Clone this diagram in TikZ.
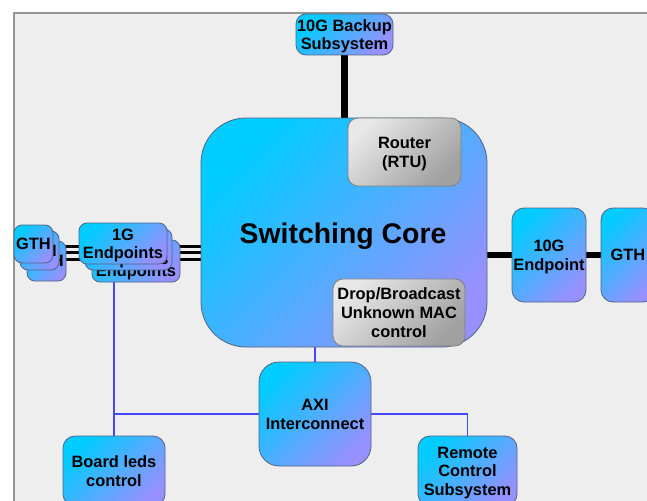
\documentclass[tikz,border=0pt]{standalone}
\usepackage{fontspec}
\setmainfont{Liberation Sans}
\pgfdeclarelayer{back}
\pgfdeclarelayer{lines}
\pgfsetlayers{back,lines,main}
\definecolor{cA}{RGB}{0,204,255}
\definecolor{cB}{RGB}{150,145,255}
\definecolor{gA}{RGB}{232,232,232}
\definecolor{gB}{RGB}{160,160,160}
\definecolor{edge}{RGB}{80,100,135}
\definecolor{bgfill}{RGB}{238,238,238}
\definecolor{bgedge}{RGB}{150,150,150}
\definecolor{wire}{RGB}{70,70,255}
\newcommand\boxtext[1]{\raisebox{-2.2pt}[\height][\depth]{\begin{tabular}{@{}c@{}}#1\end{tabular}}}
\tikzset{
  blk/.style={draw=edge, line width=0.8pt, top color=cA, bottom color=cB, shading angle=45,
    inner sep=0pt, font=\bfseries\fontsize{16.4}{18.6}\selectfont, rounded corners=10pt},
  gblk/.style={blk, top color=gA, bottom color=gB, shading angle=45, draw=gray},
  thick wire/.style={line width=6.5pt, black},
  thin bus/.style={line width=3pt, black},
  ctrl/.style={line width=1.4pt, wire},
}
\begin{document}
\begin{tikzpicture}[x=1pt,y=-1pt]
\useasboundingbox (0,0) rectangle (647,500);
\clip (0,0) rectangle (647,500);
\begin{pgfonlayer}{back}
\fill[white] (0,0) rectangle (647,500);
\fill[bgfill] (14,13) rectangle (660,510);
\draw[bgedge, line width=1.5pt] (14,510) -- (14,13) -- (660,13);
\end{pgfonlayer}

% top
\node[blk, minimum width=97pt, minimum height=41pt] (backup) at (344.5,34.5) {\boxtext{10G Backup\\Subsystem}};
% core
\node[blk, minimum width=286pt, minimum height=229pt, rounded corners=45pt,
  font=\bfseries\fontsize{28.4}{32}\selectfont] (core) at (344,232.5) {\raisebox{-4pt}[\height][\depth]{Switching Core}\hspace*{2pt}};
\node[gblk, minimum width=113pt, minimum height=68pt] (router) at (404.5,152) {\boxtext{Router\\(RTU)}};
\node[gblk, minimum width=132pt, minimum height=67pt] (drop) at (399,312.5) {\boxtext{Drop/Broadcast\\Unknown MAC\\control}};
% AXI
\node[blk, minimum width=112pt, minimum height=104pt, rounded corners=20pt] (axi) at (315,414) {\boxtext{AXI\\Interconnect}};
\node[blk, minimum width=102pt, minimum height=70pt, rounded corners=12pt] (leds) at (114,471) {\boxtext{Board leds\\control}};
\node[blk, minimum width=99pt, minimum height=70pt, rounded corners=12pt] (remote) at (467.5,471) {\boxtext{Remote\\Control\\Subsystem}};
% right
\node[blk, minimum width=74pt, minimum height=94pt, rounded corners=12pt] (ep10) at (549,255) {\boxtext{10G\\Endpoint}};
\node[blk, minimum width=54pt, minimum height=94pt, rounded corners=12pt] (gthr) at (628,255) {\boxtext{GTH}};
% left stacks
\node[blk, minimum width=39pt, minimum height=40pt, rounded corners=8pt] (gthc) at (46.5,261) {\boxtext{GTH}};
\node[blk, minimum width=39pt, minimum height=39pt, rounded corners=8pt] (gthb) at (39.5,250.5) {\boxtext{GTH}};
\node[blk, minimum width=39pt, minimum height=38pt, rounded corners=8pt] (gtha) at (33.5,244) {\boxtext{GTH}};
\node[blk, minimum width=88pt, minimum height=42pt, rounded corners=8pt] (ep1c) at (136,261) {\boxtext{1G\\Endpoints}};
\node[blk, minimum width=87pt, minimum height=41pt, rounded corners=8pt] (ep1b) at (128.5,249.5) {\boxtext{1G\\Endpoints}};
\node[blk, minimum width=88pt, minimum height=41pt, rounded corners=8pt] (ep1a) at (123,243.5) {\boxtext{1G\\Endpoints}};

\begin{pgfonlayer}{lines}
\draw[thick wire] (backup.south) -- (backup.south |- core.north);
\draw[thick wire] (ep10.west) -- (ep10.west -| core.east);
\draw[thick wire] (ep10.east) -- (gthr.west);
\draw[thin bus] (gtha.east |- 0,246) -- (ep1a.west |- 0,246);
\draw[thin bus] (gthb.east |- 0,252.5) -- (ep1b.west |- 0,252.5);
\draw[thin bus] (gthc.east |- 0,259) -- (ep1c.west |- 0,259);
\draw[thin bus] (ep1a.east |- 0,246) -- (core.west |- 0,246);
\draw[thin bus] (ep1b.east |- 0,252.5) -- (core.west |- 0,252.5);
\draw[thin bus] (ep1c.east |- 0,259) -- (core.west |- 0,259);
\draw[ctrl] (axi.north) -- (axi.north |- core.south);
\draw[ctrl] (leds.north) -- (leds.north |- ep1c.south);
\draw[ctrl] (axi.west) -- (axi.west -| leds.north);
\draw[ctrl] (axi.east) -| (remote.north);
\end{pgfonlayer}
\end{tikzpicture}
\end{document}
